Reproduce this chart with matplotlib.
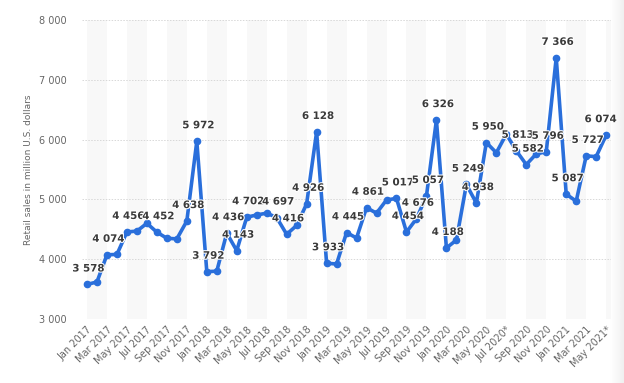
import numpy as np
import matplotlib
matplotlib.use("Agg")
import matplotlib.pyplot as plt
import matplotlib.patheffects as pe
from matplotlib.ticker import FuncFormatter

# monthly retail sales, Jan 2017 - May 2021 (million U.S. dollars)
months = [f"{m} {y}" for y in range(2017, 2022)
          for m in ["Jan", "Feb", "Mar", "Apr", "May", "Jun",
                    "Jul", "Aug", "Sep", "Oct", "Nov", "Dec"]][:53]
sales = [3578, 3620, 4074, 4080, 4456, 4470, 4600, 4452, 4350, 4340, 4638, 5972,
         3792, 3800, 4436, 4143, 4702, 4740, 4770, 4697, 4416, 4565, 4926, 6128,
         3933, 3920, 4445, 4355, 4861, 4770, 4990, 5017, 4454, 4676, 5057, 6326,
         4188, 4320, 5249, 4938, 5950, 5780, 6090, 5813, 5582, 5760, 5796, 7366,
         5087, 4970, 5727, 5715, 6074]
# months that carry a value label
labeled = ["Jan 2017", "Mar 2017", "May 2017", "Aug 2017", "Nov 2017", "Dec 2017",
           "Jan 2018", "Mar 2018", "Apr 2018", "May 2018", "Aug 2018", "Sep 2018",
           "Nov 2018", "Dec 2018", "Jan 2019", "Mar 2019", "May 2019", "Aug 2019",
           "Sep 2019", "Oct 2019", "Nov 2019", "Dec 2019", "Jan 2020", "Mar 2020",
           "Apr 2020", "May 2020", "Aug 2020", "Sep 2020", "Nov 2020", "Dec 2020",
           "Jan 2021", "Mar 2021", "May 2021"]
starred = ["Jul 2020", "May 2021"]

fig = plt.figure(figsize=(6.24, 3.83), dpi=100)
fig.patch.set_facecolor("white")

# faint shadow on the right edge
shade = fig.add_axes([0.978, 0, 0.022, 1])
shade.imshow(np.linspace(1.0, 0.94, 50)[None, :], cmap="gray", vmin=0, vmax=1,
             aspect="auto", extent=[0, 1, 0, 1])
shade.axis("off")

ax = fig.add_axes([0.1314, 0.167, 0.848, 0.781])
x = np.arange(len(months))

# alternating background bands
for start in range(0, len(months), 4):
    ax.axvspan(start, min(start + 2, len(months) - 0.5), color="#f8f8f8", lw=0, zorder=0)

ax.plot(x, sales, color="#2a6fdb", lw=2.6, marker="o", ms=4.5, zorder=3,
        solid_joinstyle="round")

for name in labeled:
    i = months.index(name)
    dx = -4 if i == len(months) - 1 else 1
    ax.annotate(f"{sales[i]:,}".replace(",", " "), (i, sales[i]),
                xytext=(dx, 11.5), textcoords="offset points",
                ha="center", va="center", fontsize=7.4, fontweight="bold",
                color="#3a3a3a", zorder=4,
                path_effects=[pe.withStroke(linewidth=1.5, foreground="white")])

ax.set_xlim(-0.5, len(months) - 0.5)
ax.set_ylim(3000, 8000)
ax.set_yticks(range(3000, 8001, 1000))
ax.yaxis.set_major_formatter(FuncFormatter(lambda v, p: f"{int(v):,}".replace(",", " ")))
ax.grid(axis="y", color="#d8d8d8", ls=(0, (1.5, 1.5)), lw=0.7)
ax.set_axisbelow(True)

ticks = x[::2]
ax.set_xticks(ticks)
ax.set_xticklabels([months[i] + ("*" if months[i] in starred else "") for i in ticks],
                   rotation=45, ha="right", va="top", rotation_mode="anchor",
                   fontsize=7, color="#666666")
ax.tick_params(axis="x", length=0, pad=4)
ax.tick_params(axis="y", length=0, pad=11, labelsize=7, labelcolor="#666666")
for s in ax.spines.values():
    s.set_visible(False)

ax.set_ylabel("Retail sales in million U.S. dollars", fontsize=6.5, color="#666666",
              labelpad=4)

fig.savefig("out.png", dpi=100)
